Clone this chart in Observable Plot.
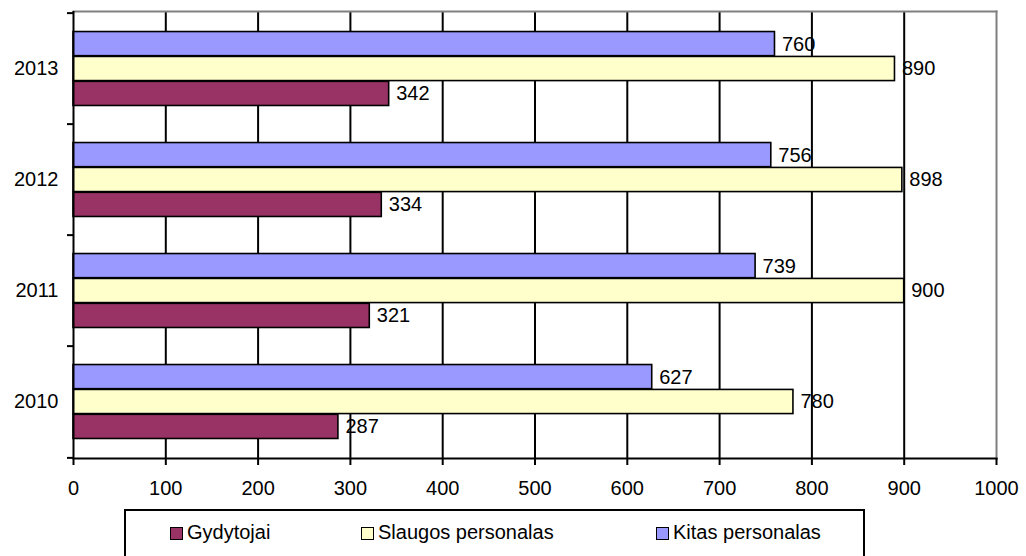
<!DOCTYPE html>
<html>
<head>
<meta charset="utf-8">
<script src="https://cdn.jsdelivr.net/npm/d3@7"></script>
<script src="https://cdn.jsdelivr.net/npm/@observablehq/plot@0.6"></script>
<style>
  html, body { margin: 0; padding: 0; background: #fff; }
  #wrap { position: relative; width: 1026px; height: 556px; overflow: hidden; font-family: "Liberation Sans", Arial, sans-serif; }
  #legend { position: absolute; left: 124px; top: 509px; width: 741px; height: 70px; border: 2px solid #000; box-sizing: border-box; background: #fff; }
  .item { position: absolute; top: 9px; font-size: 20px; line-height: 24px; color: #000; white-space: nowrap; }
  .sw { display: inline-block; width: 11px; height: 11px; border: 1.5px solid #000; vertical-align: -1px; margin-right: 4px; }
</style>
</head>
<body>
<div id="wrap"></div>
<script>
const years = ["2010", "2011", "2012", "2013"];
const seriesNames = ["Gydytojai", "Slaugos personalas", "Kitas personalas"];
const gydytojai = [287, 321, 334, 342];
const slaugos = [780, 900, 898, 890];
const kitas = [627, 739, 756, 760];
const xTicks = [0, 100, 200, 300, 400, 500, 600, 700, 800, 900, 1000];
const colors = ["#993366", "#FFFFCC", "#9999FF"];

const rows = years.map((y, i) => ({year: y, g: gydytojai[i], s: slaugos[i], k: kitas[i]}));
const yDomain = years.slice().reverse();

const H = 556, MT = 11, MB = 98;
const step = (H - MT - MB) / years.length;
const barH = 24.9;
const outer = (step - 3 * barH) / 2;

const bar = (field, idx, color) => Plot.barX(rows, {
  x: field, y: "year", fill: color, stroke: "#000", strokeWidth: 1.6,
  insetTop: outer + (2 - idx) * barH,
  insetBottom: outer + idx * barH
});
const lab = (field, idx) => Plot.text(rows, {
  x: field, y: "year", text: field, textAnchor: "start", dx: 7,
  dy: (1 - idx) * barH, fill: "#000", fontSize: 20
});

const chart = Plot.plot({
  width: 1026,
  height: H,
  marginTop: MT,
  marginBottom: MB,
  marginLeft: 73,
  marginRight: 30,
  style: {fontFamily: "'Liberation Sans', Arial, sans-serif", fontSize: "20px", color: "#000", background: "#fff"},
  x: {domain: [0, 1000], label: null},
  y: {domain: yDomain, type: "band", padding: 0, label: null},
  marks: [
    Plot.ruleX(xTicks.slice(1, -1), {stroke: "#000", strokeWidth: 2}),
    Plot.frame({anchor: "top", stroke: "#808080", strokeWidth: 2}),
    Plot.frame({anchor: "right", stroke: "#808080", strokeWidth: 2}),
    bar("g", 0, colors[0]),
    bar("s", 1, colors[1]),
    bar("k", 2, colors[2]),
    lab("g", 0),
    lab("s", 1),
    lab("k", 2),
    Plot.ruleX([0], {stroke: "#000", strokeWidth: 2}),
    Plot.frame({anchor: "bottom", stroke: "#000", strokeWidth: 2}),
    Plot.axisX({ticks: xTicks, tickSize: 7, tickPadding: 15, tickFormat: d3.format("d"), strokeWidth: 2, label: null, fontSize: 20}),
    Plot.axisY({tickSize: 0, tickPadding: 15, label: null, fontSize: 20}),
    Plot.axisY({ticks: years, tickSize: 6, tickFormat: () => "", dy: -step / 2, strokeWidth: 2, label: null}),
    Plot.axisY({ticks: ["2010"], tickSize: 6, tickFormat: () => "", dy: step / 2, strokeWidth: 2, label: null})
  ]
});

const wrap = document.getElementById("wrap");
wrap.appendChild(chart);

const legend = document.createElement("div");
legend.id = "legend";
const legendLeft = [44, 235, 530];
seriesNames.forEach((name, i) => {
  const it = document.createElement("div");
  it.className = "item";
  it.style.left = legendLeft[i] + "px";
  const sw = document.createElement("span");
  sw.className = "sw";
  sw.style.background = colors[i];
  it.appendChild(sw);
  it.appendChild(document.createTextNode(name));
  legend.appendChild(it);
});
wrap.appendChild(legend);
chart.style.position = "absolute";
chart.style.left = "0";
chart.style.top = "0";
</script>
</body>
</html>
